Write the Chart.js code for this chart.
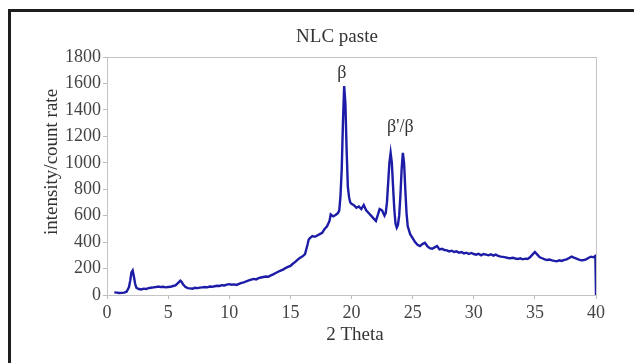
<!DOCTYPE html>
<html>
<head>
<meta charset="utf-8">
<script src="https://cdn.jsdelivr.net/npm/chart.js@4.4.1/dist/chart.umd.min.js"></script>
<style>
  body { margin: 0; background: #fff; }
  #wrap { position: relative; width: 634px; height: 363px; overflow: hidden; }
  #frame { position: absolute; left: 8px; top: 9px; right: -10px; bottom: -10px;
           border-left: 3px solid #1e1e1e; border-top: 3px solid #1e1e1e; pointer-events: none; }
</style>
</head>
<body>
<div id="wrap">
  <canvas id="xrd" width="634" height="363"></canvas>
  <div id="frame"></div>
</div>
<script>
// 2 theta positions (degrees)
var theta = [
  0.6, 0.8, 1.0, 1.2, 1.4, 1.6, 1.8, 1.9, 2.0, 2.1, 2.2, 2.3, 2.4, 2.6, 2.8, 3.0, 3.2, 3.4, 3.6, 3.8,
  4.0, 4.2, 4.4, 4.6, 4.8, 5.0, 5.2, 5.4, 5.6, 5.8, 6.0, 6.1, 6.2, 6.4, 6.6, 6.8, 7.0, 7.2, 7.4, 7.6,
  7.8, 8.0, 8.2, 8.4, 8.6, 8.8, 9.0, 9.2, 9.4, 9.6, 9.8, 10.0, 10.2, 10.4, 10.6, 10.8, 11.0, 11.2, 11.4, 11.6,
  11.8, 12.0, 12.2, 12.4, 12.6, 12.8, 13.0, 13.2, 13.4, 13.6, 13.8, 14.0, 14.2, 14.4, 14.6, 14.8, 15.0, 15.2, 15.4, 15.6,
  15.8, 16.0, 16.2, 16.4, 16.5, 16.6, 16.8, 17.0, 17.2, 17.4, 17.6, 17.8, 18.0, 18.2, 18.3, 18.5, 18.7, 18.9, 19.0, 19.1,
  19.2, 19.3, 19.4, 19.5, 19.6, 19.7, 19.8, 19.9, 20.0, 20.2, 20.4, 20.6, 20.8, 21.0, 21.2, 21.4, 21.6, 21.8, 22.0, 22.1,
  22.3, 22.5, 22.7, 22.8, 22.9, 23.0, 23.1, 23.2, 23.3, 23.4, 23.5, 23.6, 23.7, 23.8, 23.9, 24.0, 24.1, 24.2, 24.3, 24.4,
  24.5, 24.6, 24.8, 25.0, 25.2, 25.4, 25.6, 25.8, 26.0, 26.2, 26.4, 26.6, 26.8, 27.0, 27.2, 27.4, 27.6, 27.8, 28.0, 28.2,
  28.4, 28.6, 28.8, 29.0, 29.2, 29.4, 29.6, 29.8, 30.0, 30.2, 30.4, 30.6, 30.8, 31.0, 31.2, 31.4, 31.6, 31.8, 32.0, 32.2,
  32.4, 32.6, 32.8, 33.0, 33.2, 33.4, 33.6, 33.8, 34.0, 34.2, 34.4, 34.6, 34.8, 35.0, 35.2, 35.4, 35.6, 35.8, 36.0, 36.2,
  36.4, 36.6, 36.8, 37.0, 37.2, 37.4, 37.6, 37.8, 38.0, 38.2, 38.4, 38.6, 38.8, 39.0, 39.2, 39.4, 39.6, 39.8, 39.95, 40.0
];
// intensity / count rate at each position
var counts = [
  20, 18, 15, 16, 18, 25, 60, 110, 170, 185, 140, 85, 55, 45, 42, 48, 45, 52, 55, 58,
  60, 64, 60, 62, 58, 60, 62, 68, 72, 90, 108, 100, 82, 62, 52, 50, 48, 55, 52, 56,
  58, 60, 58, 64, 62, 66, 70, 68, 74, 72, 78, 82, 78, 80, 76, 84, 92, 96, 104, 110,
  116, 122, 118, 128, 132, 136, 140, 138, 148, 156, 166, 176, 184, 192, 204, 212, 220, 236, 250, 268,
  282, 292, 310, 380, 420, 430, 445, 440, 450, 460, 470, 500, 520, 560, 610, 595, 605, 620, 640, 750,
  950, 1300, 1580, 1450, 1100, 820, 740, 700, 690, 680, 660, 670, 650, 680, 640, 620, 600, 580, 560, 590,
  650, 640, 600, 620, 700, 850, 1000, 1075, 1000, 820, 650, 540, 510, 530, 600, 750, 950, 1075, 1000, 800,
  620, 520, 460, 430, 400, 380, 370, 385, 395, 370, 355, 350, 360, 370, 345, 350, 340, 338, 330, 335,
  325, 330, 320, 325, 315, 320, 310, 318, 310, 305, 312, 300, 310, 305, 300, 308, 298, 305, 295, 290,
  288, 285, 280, 278, 282, 276, 272, 278, 270, 275, 272, 285, 305, 325, 305, 285, 278, 270, 265, 268,
  262, 258, 255, 262, 258, 265, 270, 280, 290, 282, 275, 268, 262, 265, 270, 282, 290, 285, 295, 0
];
// peak labels and where they sit (data units)
var peakText = ["β", "β'/β"];
var peakAt = [[19.2, 1680], [24.0, 1265]];

var xMin = 0, xMax = 40, xStep = 5;
var yMin = 0, yMax = 1800, yStep = 200;

var serif = "'Liberation Serif', 'DejaVu Serif', serif";

var points = theta.map(function (t, i) { return {x: t, y: counts[i]}; });

/* grey box round the plot, titles and peak labels (drawn by hand so they sit where the original has them) */
var extras = {
  id: 'extras',
  afterDatasetsDraw: function (chart) {
    var ctx = chart.ctx, a = chart.chartArea;
    ctx.save();
    ctx.strokeStyle = '#c4c4c4';
    ctx.lineWidth = 1;
    ctx.strokeRect(a.left + 0.5, a.top + 0.5, a.right - a.left, a.bottom - a.top);

    ctx.fillStyle = '#333';
    ctx.font = "18px " + serif;
    ctx.textAlign = 'center';
    ctx.textBaseline = 'middle';
    peakText.forEach(function (txt, i) {
      var px = chart.scales.x.getPixelForValue(peakAt[i][0]);
      var py = chart.scales.y.getPixelForValue(peakAt[i][1]);
      ctx.fillText(txt, px, py);
    });

    ctx.font = "19px " + serif;
    ctx.fillText('NLC paste', 337, 37);
    ctx.fillText('2 Theta', 355, 335);
    ctx.translate(52, 162);
    ctx.rotate(-Math.PI / 2);
    ctx.fillText('intensity/count rate', 0, 0);
    ctx.restore();
  }
};

new Chart(document.getElementById('xrd'), {
  type: 'line',
  data: {
    datasets: [{
      data: points,
      borderColor: '#1c1ca6',
      borderWidth: 2.4,
      pointRadius: 0,
      tension: 0,
      fill: false
    }]
  },
  options: {
    responsive: false,
    animation: false,
    layout: { padding: { left: 0, right: 38, top: 57, bottom: 0 } },
    plugins: {
      legend: { display: false },
      tooltip: { enabled: false },
      title: { display: false }
    },
    scales: {
      x: {
        type: 'linear',
        min: xMin, max: xMax,
        ticks: { stepSize: xStep, color: '#444', font: { family: serif, size: 18 }, padding: 3, maxRotation: 0 },
        grid: { display: true, drawOnChartArea: false, tickLength: 4, color: '#bbb' },
        border: { color: '#bbb' },
        afterFit: function (s) { s.height = 68; }
      },
      y: {
        min: yMin, max: yMax,
        ticks: { stepSize: yStep, color: '#444', font: { family: serif, size: 18 }, padding: 2,
                 callback: function (v) { return String(v); } },
        grid: { display: true, drawOnChartArea: false, tickLength: 4, color: '#bbb' },
        border: { color: '#bbb' },
        afterFit: function (s) { s.width = 107; }
      }
    }
  },
  plugins: [extras]
});
</script>
</body>
</html>
